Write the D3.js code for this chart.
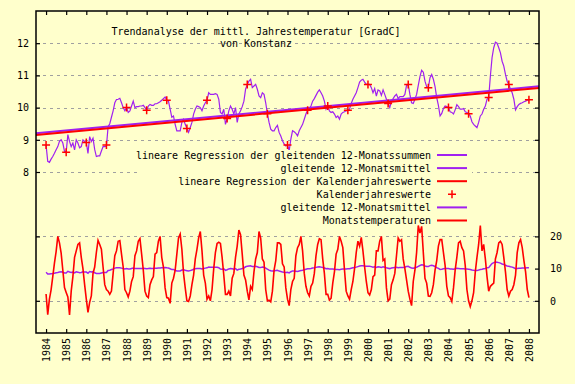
<!DOCTYPE html>
<html>
<head>
<meta charset="utf-8">
<script src="https://cdn.jsdelivr.net/npm/d3@7"></script>
<style>
  body { margin: 0; background: #ffffcc; }
  svg { display: block; }
  text { font-family: "DejaVu Sans Mono", monospace; font-size: 10px; fill: #000; }
</style>
</head>
<body>
<div id="chart"></div>
<script>
// x tick labels (years) and y tick values
const yearTicks = [1984, 1985, 1986, 1987, 1988, 1989, 1990, 1991, 1992, 1993, 1994, 1995, 1996,
                   1997, 1998, 1999, 2000, 2001, 2002, 2003, 2004, 2005, 2006, 2007, 2008];
const y1Ticks = [8, 9, 10, 11, 12];
const y2Ticks = [0, 10, 20];
const y2Grid = [0, 20];

const firstMonth = 1984;   // first monthly value sits on the 1984 tick, one value per month

// Monatstemperaturen, one row per year tick (12 months each) + last value
const monthlyTemps = [
  2.1, -4.3, 0.5, 3.4, 7.5, 11.7, 15.3, 20.0, 18.0, 14.8, 9.5, 4.1,
  2.6, 1.2, -4.4, 3.0, 7.5, 13.5, 15.5, 17.5, 18.0, 13.5, 10.0, 5.0,
  0.5, -3.6, -0.5, 1.5, 8.5, 10.5, 15.0, 18.8, 17.5, 16.0, 10.5, 5.0,
  3.5, 3.0, 2.0, 3.0, 8.5, 14.0, 15.5, 18.5, 18.7, 14.5, 10.5, 3.5,
  2.5, 1.2, 3.0, 6.0, 7.5, 14.0, 15.5, 18.5, 19.3, 14.5, 9.5, 3.0,
  1.5, 1.0, 5.0, 6.5, 7.5, 14.5, 15.0, 18.5, 20.0, 13.5, 10.5, 4.0,
  1.0, 0.8, -0.8, 5.5, 7.0, 9.5, 14.5, 19.5, 20.7, 16.0, 8.5, 4.0,
  0.0, -0.2, 1.5, 5.0, 8.0, 13.0, 16.0, 19.5, 21.5, 15.5, 8.0, 5.5,
  0.5, 1.5, 0.0, 3.5, 10.0, 15.0, 17.8, 18.2, 17.8, 13.5, 8.0, 2.0,
  2.0, 3.0, 1.5, 7.0, 8.5, 13.5, 17.0, 22.0, 20.5, 14.5, 8.0, 6.5,
  3.0, 0.3, 4.5, 3.5, 9.0, 13.0, 15.0, 21.5, 19.5, 13.0, 12.0, 3.5,
  0.0, 0.2, -0.3, 3.0, 9.5, 12.5, 18.0, 18.0, 17.5, 11.5, 10.5, 4.0,
  0.5, -1.5, 3.5, 6.0, 7.0, 14.0, 16.5, 17.5, 20.0, 15.5, 8.5, 4.5,
  2.5, 1.5, 4.5, 5.5, 8.5, 14.0, 17.5, 19.3, 19.0, 13.0, 8.5, 2.0,
  2.0, 0.2, 0.8, 5.5, 9.0, 14.5, 16.0, 20.0, 18.5, 16.5, 9.5, 3.0,
  1.5, 0.5, 3.5, 6.0, 10.0, 15.0, 18.5, 17.0, 19.7, 15.5, 10.5, 6.0,
  2.5, 1.8, 3.5, 7.5, 8.0, 15.5, 15.5, 18.5, 20.0, 12.5, 13.0, 4.0,
  0.0, 0.5, 5.0, 6.5, 8.5, 14.0, 19.5, 18.5, 19.0, 13.0, 10.0, 6.5,
  3.0, 0.5, -1.5, 6.0, 9.5, 15.0, 23.4, 21.0, 23.1, 15.0, 7.0, 5.5,
  1.5, 1.4, 2.5, 5.0, 9.5, 12.5, 17.0, 19.0, 19.0, 15.0, 11.0, 4.5,
  1.5, 1.0, -0.2, 4.0, 9.5, 13.5, 18.0, 18.5, 16.5, 15.5, 11.0, 3.5,
  0.0, -1.8, 0.0, 2.5, 9.0, 13.5, 17.5, 23.4, 15.5, 17.5, 13.0, 7.5,
  3.0, 4.5, 5.0, 5.5, 13.0, 15.0, 18.0, 18.5, 17.5, 13.5, 9.0, 3.5,
  1.5, 3.0, 3.5, 5.0, 8.0, 15.0, 18.0, 19.0, 16.5, 12.5, 9.0, 3.5,
  1.0
];

// gleitende 12-Monatsmittel, same months as above
const movingAvg = [
  8.84, 8.33, 8.30, 8.40, 8.48, 8.58, 8.69, 8.79, 8.95, 9.00, 8.90, 8.64,
  8.62, 9.16, 8.95, 8.79, 8.90, 8.69, 9.00, 8.90, 8.75, 8.79, 9.00, 8.95,
  8.92, 8.58, 9.10, 8.95, 9.05, 8.70, 8.48, 8.50, 8.50, 8.65, 8.79, 8.79,
  8.80, 9.41, 9.50, 9.70, 9.90, 10.15, 10.25, 10.26, 10.29, 10.15, 10.00, 9.90,
  10.00, 9.85, 9.90, 10.05, 10.20, 10.00, 10.03, 10.03, 10.05, 10.05, 10.07, 10.00,
  9.92, 10.05, 10.10, 10.07, 10.07, 10.12, 10.12, 10.15, 10.18, 10.23, 10.28, 10.33,
  10.23, 10.20, 9.95, 9.70, 9.74, 9.48, 9.28, 9.28, 9.28, 9.54, 9.64, 9.48,
  9.35, 9.23, 9.38, 9.54, 9.80, 9.95, 10.05, 10.03, 10.00, 9.90, 10.05, 10.15,
  10.23, 10.46, 10.41, 10.41, 10.41, 10.43, 10.41, 10.26, 9.85, 9.80, 9.95, 9.48,
  9.66, 9.90, 10.05, 9.95, 9.80, 10.00, 9.54, 9.80, 9.90, 10.03, 10.20, 10.57,
  10.72, 10.82, 10.88, 10.62, 10.67, 10.72, 10.57, 10.36, 10.31, 10.46, 10.41, 10.15,
  9.81, 9.54, 9.33, 9.28, 9.28, 9.38, 9.45, 9.23, 9.12, 8.97, 8.87, 8.81,
  8.84, 8.66, 9.02, 9.28, 9.25, 9.20, 9.12, 9.28, 9.38, 9.48, 9.64, 9.80,
  9.92, 9.97, 10.05, 10.20, 10.28, 10.38, 10.48, 10.55, 10.46, 10.36, 10.20, 9.95,
  10.05, 9.90, 9.85, 9.87, 9.80, 9.69, 9.74, 9.64, 9.80, 9.85, 9.87, 9.90,
  9.92, 9.95, 10.13, 10.26, 10.36, 10.46, 10.62, 10.79, 10.85, 10.88, 10.79, 10.72,
  10.72, 10.72, 10.62, 10.46, 10.59, 10.36, 10.55, 10.52, 10.38, 10.55, 10.41, 10.26,
  10.13, 10.00, 10.20, 10.28, 10.36, 10.41, 10.28, 10.34, 10.34, 10.34, 10.41, 10.69,
  10.72, 10.41, 10.15, 10.13, 10.26, 10.41, 10.69, 10.96, 11.16, 11.10, 10.82, 10.65,
  10.62, 10.93, 11.03, 10.88, 10.65, 10.31, 10.07, 9.74, 9.82, 9.97, 10.05, 10.03,
  10.00, 9.87, 9.85, 9.80, 9.93, 10.09, 10.03, 9.95, 9.95, 9.97, 9.87, 9.85,
  9.81, 9.74, 9.56, 9.48, 9.43, 9.38, 9.54, 9.74, 9.80, 9.95, 10.05, 10.26,
  10.31, 10.98, 11.55, 11.86, 12.03, 12.00, 11.86, 11.70, 11.44, 11.29, 11.03, 10.82,
  10.72, 10.57, 10.46, 10.26, 9.93, 10.03, 10.10, 10.13, 10.15, 10.18, 10.20, 10.23,
  10.24
];

// Kalenderjahreswerte, one per year tick
const annualMeans = [8.84, 8.61, 8.92, 8.84, 10.00, 9.92, 10.23, 9.35, 10.23, 9.66, 10.72, 9.81, 8.84,
                     9.92, 10.05, 9.92, 10.72, 10.13, 10.72, 10.62, 10.00, 9.81, 10.31, 10.72, 10.24];

// linear regressions, value at both ends of the x range
const regYears = [1983.5, 2008.5];
const regMonthly = [9.20, 10.66];
const regAnnual = [9.15, 10.61];

const titleLines = ["Trendanalyse der mittl. Jahrestemperatur [GradC]", "von Konstanz"];
const keyLabels = [
  "lineare Regression der gleitenden 12-Monatssummen",
  "gleitende 12-Monatsmittel",
  "lineare Regression der Kalenderjahreswerte",
  "Kalenderjahreswerte",
  "gleitende 12-Monatsmittel",
  "Monatstemperaturen"
];

const W = 575, H = 384;
const bg = "#ffffcc", red = "#ff0000", purple = "#a020f0", gridCol = "#a0a0a0";
const plot = { left: 36, right: 539, top: 11, bottom: 333 };

const svg = d3.select("#chart").append("svg")
    .attr("width", W)
    .attr("height", H);

svg.append("rect").attr("width", W).attr("height", H).attr("fill", bg);

const x = d3.scaleLinear().domain([1983.5, 2008.5]).range([plot.left, plot.right]);
const y1 = d3.scaleLinear().domain([3, 13]).range([plot.bottom, plot.top]);
const y2 = d3.scaleLinear().domain([-10, 90]).range([plot.bottom, plot.top]);

// grid
const grid = svg.append("g")
    .attr("stroke", gridCol)
    .attr("stroke-dasharray", "3,4")
    .attr("shape-rendering", "crispEdges");
y1Ticks.forEach(v => {
    grid.append("line").attr("x1", plot.left).attr("x2", plot.right)
        .attr("y1", Math.round(y1(v)) + 0.5).attr("y2", Math.round(y1(v)) + 0.5);
});
y2Grid.forEach(v => {
    grid.append("line").attr("x1", plot.left).attr("x2", plot.right)
        .attr("y1", Math.round(y2(v)) + 0.5).attr("y2", Math.round(y2(v)) + 0.5);
});

const monthX = (d, i) => x(firstMonth + i / 12);

// regression of moving sums (purple)
svg.append("path")
    .datum(regYears)
    .attr("fill", "none").attr("stroke", purple).attr("stroke-width", 2)
    .attr("d", d3.line().x(d => x(d)).y((d, i) => y1(regMonthly[i])));

// moving average, upper panel
svg.append("path")
    .datum(movingAvg)
    .attr("fill", "none").attr("stroke", purple).attr("stroke-width", 1.2)
    .attr("d", d3.line().x(monthX).y(d => y1(d)));

// regression of calendar years (red)
svg.append("path")
    .datum(regYears)
    .attr("fill", "none").attr("stroke", red).attr("stroke-width", 2)
    .attr("d", d3.line().x(d => x(d)).y((d, i) => y1(regAnnual[i])));

// annual means as "+"
const pts = svg.append("g").attr("stroke", red).attr("stroke-width", 1.5);
annualMeans.forEach((v, i) => {
    const cx = x(yearTicks[i]), cy = y1(v);
    pts.append("path").attr("d", `M${cx - 4},${cy}H${cx + 4}M${cx},${cy - 4}V${cy + 4}`);
});

// moving average, lower panel (right axis)
svg.append("path")
    .datum(movingAvg)
    .attr("fill", "none").attr("stroke", purple).attr("stroke-width", 1.5)
    .attr("d", d3.line().x(monthX).y(d => y2(d)));

// monthly temperatures (right axis)
svg.append("path")
    .datum(monthlyTemps)
    .attr("fill", "none").attr("stroke", red).attr("stroke-width", 1.6)
    .attr("d", d3.line().x(monthX).y(d => y2(d)));

// title
titleLines.forEach((t, i) => {
    svg.append("text")
        .attr("x", 256).attr("y", 35 + i * 12)
        .attr("text-anchor", "middle")
        .text(t);
});

// key (opaque background hides grid behind it)
svg.append("rect")
    .attr("x", 137).attr("y", 150).attr("width", 335).attr("height", 75)
    .attr("fill", bg);

const keyStyle = [
    { color: purple, kind: "line" },
    { color: purple, kind: "line" },
    { color: red, kind: "line" },
    { color: red, kind: "plus" },
    { color: purple, kind: "line" },
    { color: red, kind: "line" }
];

const key = svg.append("g");
keyLabels.forEach((label, i) => {
    const ky = 155 + i * 13.1;
    key.append("text")
        .attr("x", 431).attr("y", ky).attr("dy", "0.35em")
        .attr("text-anchor", "end")
        .text(label);
    const s = keyStyle[i];
    if (s.kind === "line") {
        key.append("line")
            .attr("x1", 437).attr("x2", 467)
            .attr("y1", ky).attr("y2", ky)
            .attr("stroke", s.color).attr("stroke-width", 2);
    } else {
        key.append("path")
            .attr("d", `M${452 - 4},${ky}H${452 + 4}M${452},${ky - 4}V${ky + 4}`)
            .attr("stroke", s.color).attr("stroke-width", 1.5);
    }
});

// frame
svg.append("rect")
    .attr("x", plot.left).attr("y", plot.top)
    .attr("width", plot.right - plot.left).attr("height", plot.bottom - plot.top)
    .attr("fill", "none").attr("stroke", "#000").attr("stroke-width", 1.5);

// axes (inward ticks)
function styleAxis(g) {
    g.select(".domain").remove();
    g.selectAll(".tick line").attr("stroke", "#000").attr("stroke-width", 1.2);
    g.selectAll("text")
        .style("font-family", '"DejaVu Sans Mono", monospace')
        .style("font-size", "10px")
        .attr("fill", "#000");
}

svg.append("g")
    .attr("transform", `translate(${plot.left},0)`)
    .call(d3.axisLeft(y1).tickValues(y1Ticks).tickSize(-4).tickPadding(7))
    .call(styleAxis);

svg.append("g")
    .attr("transform", `translate(${plot.left},0)`)
    .call(d3.axisLeft(y2).tickValues(y2Grid).tickSize(-4).tickFormat(""))
    .call(styleAxis);

svg.append("g")
    .attr("transform", `translate(${plot.right},0)`)
    .call(d3.axisRight(y1).tickValues(y1Ticks).tickSize(-4).tickFormat(""))
    .call(styleAxis);

svg.append("g")
    .attr("transform", `translate(${plot.right},0)`)
    .call(d3.axisRight(y2).tickValues(y2Ticks).tickSize(-4).tickPadding(11))
    .call(styleAxis);

svg.append("g")
    .attr("transform", `translate(0,${plot.top})`)
    .call(d3.axisTop(x).tickValues(yearTicks).tickSize(-4).tickFormat(""))
    .call(styleAxis);

const xAxis = svg.append("g")
    .attr("transform", `translate(0,${plot.bottom})`)
    .call(d3.axisBottom(x).tickValues(yearTicks).tickSize(-4).tickFormat(d3.format("d")))
    .call(styleAxis);

xAxis.selectAll(".tick text")
    .attr("x", -5).attr("y", 0).attr("dy", "0.35em")
    .attr("transform", "rotate(-90)")
    .attr("text-anchor", "end");
</script>
</body>
</html>
